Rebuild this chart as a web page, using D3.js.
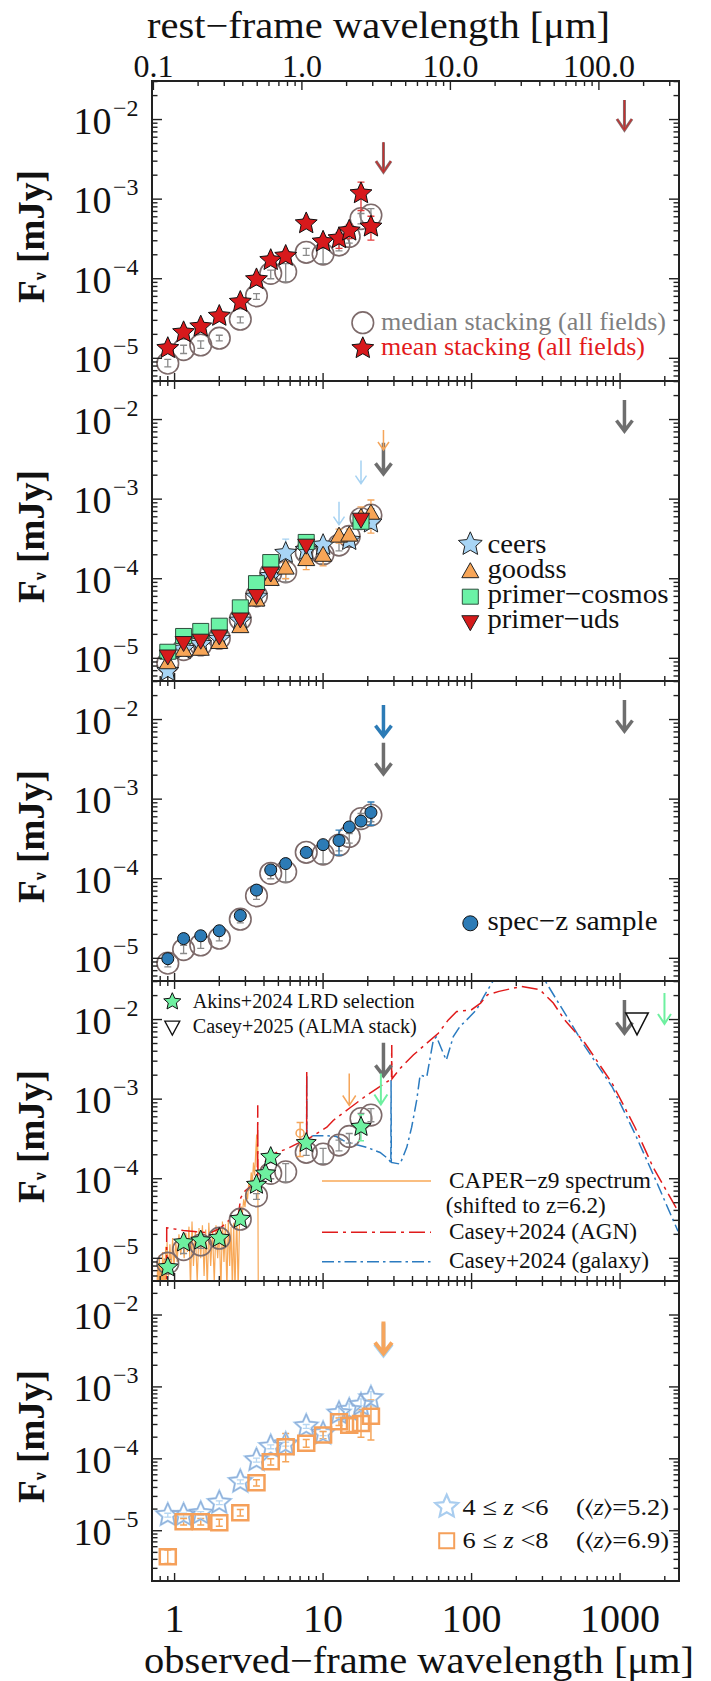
<!DOCTYPE html>
<html>
<head>
<meta charset="utf-8">
<script src="https://cdn.jsdelivr.net/npm/d3@7"></script>
<style>
  body { margin: 0; background: #fff; }
  svg { display: block; }
  svg text { font-family: "Liberation Serif", "Times New Roman", Tinos, "Nimbus Roman", "Nimbus Roman No9 L", FreeSerif, "DejaVu Serif Condensed", serif; }
</style>
</head>
<body>
<div id="chart"></div>
<script>
// observed-frame filter wavelengths [micron]
const waves = [0.9, 1.15, 1.5, 2.0, 2.77, 3.56, 4.44, 5.6, 7.7, 10, 12.8, 15, 18, 21];
const limWaves = [25.5, 1070];
const zShift = 6.2;

// median / mean stacks, all fields [mJy]
const medianFlux = [8.7e-6, 1.29e-5, 1.47e-5, 1.79e-5, 3.1e-5, 6.1e-5, 1.17e-4, 1.22e-4, 2.15e-4, 2.04e-4, 2.65e-4, 3.4e-4, 5.7e-4, 6.3e-4];
const medianLo = [7.8e-6, 1.15e-5, 1.33e-5, 1.66e-5, 2.79e-5, 5.5e-5, 1.0e-4, 9.1e-5, 1.97e-4, 1.55e-4, 2.24e-4, 2.8e-4, 4.9e-4, 5.2e-4];
const medianHi = [9.7e-6, 1.46e-5, 1.66e-5, 1.95e-5, 3.31e-5, 6.5e-5, 1.28e-4, 1.55e-4, 2.4e-4, 2.4e-4, 3.05e-4, 3.7e-4, 6.6e-4, 7.6e-4];
const medianLim = [5.1e-3, 0.0176];

const meanFlux = [1.34e-5, 2.12e-5, 2.5e-5, 3.4e-5, 5.1e-5, 9.8e-5, 1.71e-4, 1.93e-4, 4.95e-4, 2.91e-4, 3.21e-4, 4.0e-4, 1.18e-3, 4.5e-4];
const meanLo = [1.2e-5, 1.9e-5, 2.25e-5, 3.05e-5, 4.6e-5, 8.8e-5, 1.5e-4, 1.7e-4, 4.3e-4, 2.5e-4, 2.4e-4, 3.2e-4, 7.2e-4, 3.05e-4];
const meanHi = [1.5e-5, 2.35e-5, 2.8e-5, 3.8e-5, 5.7e-5, 1.1e-4, 1.95e-4, 2.2e-4, 5.7e-4, 3.35e-4, 3.8e-4, 4.8e-4, 1.64e-3, 6.1e-4];
const meanLim = [5.2e-3, 0.0176];

// per field stacks
const ceersFlux = [6.9e-6, 1.3e-5, 1.5e-5, 1.74e-5, 2.95e-5, 5.9e-5, 1.07e-4, 2.1e-4, 2.29e-4, 2.64e-4, null, 3.05e-4, null, 5.06e-4];
const ceersLo = [6.3e-6, 1.2e-5, 1.4e-5, 1.6e-5, 2.75e-5, 5.5e-5, 1.0e-4, 1.01e-4, 2.0e-4, 2.3e-4, null, 2.6e-4, null, 4.3e-4];
const ceersHi = [7.5e-6, 1.4e-5, 1.6e-5, 1.9e-5, 3.15e-5, 6.3e-5, 1.15e-4, 3.14e-4, 2.6e-4, 3.0e-4, null, 3.5e-4, null, 5.9e-4];
const ceersLimWave = [12.8, 18];
const ceersLim = [9.3e-4, 3.05e-3];

const goodssFlux = [8.8e-6, 1.26e-5, 1.3e-5, 1.58e-5, 2.5e-5, 5.4e-5, 9.8e-5, 1.36e-4, 1.74e-4, 1.97e-4, 3.43e-4, 3.53e-4, 5.9e-4, 6.65e-4];
const goodssLo = [8.0e-6, 1.15e-5, 1.2e-5, 1.45e-5, 2.3e-5, 5.0e-5, 8.8e-5, 1.0e-4, 1.3e-4, 1.45e-4, 2.8e-4, 2.9e-4, 5.2e-4, 3.74e-4];
const goodssHi = [9.6e-6, 1.37e-5, 1.4e-5, 1.7e-5, 2.7e-5, 5.8e-5, 1.08e-4, 1.6e-4, 2.1e-4, 2.3e-4, 4.2e-4, 4.2e-4, 8.0e-4, 9.75e-4];
const goodssLimWave = [25.5];
const goodssLim = [7.4e-3];

const cosmosFlux = [1.21e-5, 1.91e-5, 2.21e-5, 2.57e-5, 4.37e-5, 8.8e-5, 1.62e-4, null, 2.9e-4, null, null, null, 5.2e-4, null];
const udsFlux = [1.07e-5, 1.58e-5, 1.69e-5, 1.91e-5, 3.12e-5, 6.15e-5, 1.18e-4, null, 2.64e-4, null, null, null, 5.6e-4, null];

// spec-z sample
const specFlux = [9.9e-6, 1.77e-5, 1.92e-5, 2.22e-5, 3.45e-5, 7.2e-5, 1.29e-4, 1.55e-4, 2.14e-4, 2.68e-4, 3.02e-4, 4.47e-4, 5.3e-4, 6.8e-4];
const specLo = [9.2e-6, 1.65e-5, 1.8e-5, 2.08e-5, 3.25e-5, 6.8e-5, 1.2e-4, 1.45e-4, 2.0e-4, 2.45e-4, 1.98e-4, 4.1e-4, 4.7e-4, 4.7e-4];
const specHi = [1.07e-5, 1.9e-5, 2.05e-5, 2.36e-5, 3.65e-5, 7.6e-5, 1.38e-4, 1.65e-4, 2.28e-4, 2.9e-4, 4.07e-4, 4.85e-4, 5.9e-4, 9.2e-4];
const specLim = [0.0152];

// Akins+2024 LRD selection, Casey+2025 ALMA stack, CAPER-z9 photometry
const akinsWave = [0.9, 1.15, 1.5, 2.0, 2.77, 3.56, 4.1, 4.44, 7.7, 18];
const akinsFlux = [7.7e-6, 1.58e-5, 1.67e-5, 1.8e-5, 3.12e-5, 8.4e-5, 1.16e-4, 1.87e-4, 2.81e-4, 4.48e-4];
const akinsLo = [7.2e-6, 1.5e-5, 1.58e-5, 1.7e-5, 2.95e-5, 7.9e-5, 1.08e-4, 1.75e-4, 2.55e-4, 3.0e-4];
const akinsHi = [8.2e-6, 1.66e-5, 1.76e-5, 1.9e-5, 3.3e-5, 8.9e-5, 1.24e-4, 2.0e-4, 3.1e-4, 6.4e-4];
const akinsLimWave = [24.5, 1990];
const akinsLim = [2.1e-3, 0.0216];
const almaWave = [1300];
const almaLim = [9.4e-3];
const caperPhotWave = [7.0];
const caperPhotFlux = [3.74e-4];
const caperPhotLo = [1.9e-4];
const caperPhotHi = [5.1e-4];
const caperLimWave = [15];
const caperLim = [2.1e-3];

// CAPER-z9 spectrum shifted to z=6.2 (traced)
const caperWave = [0.76, 0.77, 0.78, 0.79, 0.80, 0.81, 0.82, 0.83, 0.84, 0.85, 0.86, 0.87, 0.88, 0.89, 0.91, 0.93, 0.95, 0.97, 0.99, 1.02,
  1.04, 1.07, 1.10, 1.13, 1.16, 1.19, 1.22, 1.25, 1.28, 1.31, 1.34, 1.38, 1.42, 1.46, 1.50, 1.54, 1.58, 1.62, 1.66, 1.70,
  1.75, 1.80, 1.85, 1.90, 1.95, 2.00, 2.05, 2.10, 2.15, 2.20, 2.25, 2.30, 2.35, 2.40, 2.45, 2.50, 2.55, 2.62, 2.68, 2.74,
  2.80, 2.86, 2.92, 2.98, 3.04, 3.10, 3.16, 3.22, 3.28, 3.34, 3.40, 3.46, 3.52, 3.57, 3.60, 3.63, 3.66];
const caperFlux = [4e-6, 9e-6, 3e-6, 1.1e-5, 3e-6, 8e-6, 3e-6, 1.2e-5, 4e-6, 1e-5, 3e-6, 1.4e-5, 5e-6, 1.6e-5, 6e-6, 1.5e-5, 7e-6, 1.8e-5, 8e-6, 1.6e-5,
  9e-6, 2.0e-5, 1.1e-5, 1.9e-5, 1.0e-5, 2.1e-5, 1.2e-5, 2.5e-5, 4e-6, 2.9e-5, 8e-6, 2.2e-5, 5e-6, 2.4e-5, 1.0e-5, 2.6e-5, 6e-6, 2.3e-5, 4e-6, 2.8e-5,
  8e-6, 2.2e-5, 5e-6, 2.6e-5, 1.0e-5, 2.4e-5, 4e-6, 2.9e-5, 9e-6, 2.7e-5, 4e-6, 3.0e-5, 8e-6, 2.5e-5, 4e-6, 2.8e-5, 4e-6, 3.5e-5, 4e-6, 3.1e-5,
  4.5e-5, 3.6e-5, 5.5e-5, 4.4e-5, 7e-5, 5.5e-5, 9e-5, 7e-5, 1.2e-4, 9e-5, 1.6e-4, 1.1e-4, 2.2e-4, 3.6e-4, 1.4e-4, 2.6e-4, 4e-6];

// Casey+2024 model SEDs (traced)
const agnWave = [0.884, 0.885, 1.144, 1.41, 1.73, 2.02, 2.36, 2.69, 2.79, 2.98, 3.39, 3.62, 3.63, 3.64, 3.86, 4.27, 4.87, 5.69, 6.64, 7.55,
  7.75, 7.76, 7.77, 8.59, 10.6, 11.7, 15.2, 19.7, 24.8, 28.9, 29.0, 29.1, 33, 40.5, 49.9, 59.7, 69.7, 79.4, 100, 115,
  128, 153, 217, 288, 355, 423, 581, 886, 1259, 1669, 2455];
const agnFlux = [3e-6, 2.42e-5, 2.24e-5, 2.15e-5, 2.09e-5, 2.37e-5, 3.08e-5, 3.56e-5, 5.78e-5, 7.03e-5, 8.55e-5, 1.1e-4, 8.36e-4, 1.15e-4, 1.39e-4, 1.89e-4, 2.14e-4, 2.37e-4, 2.74e-4, 3.01e-4,
  3.1e-4, 2.2e-3, 3.1e-4, 3.48e-4, 4.44e-4, 5.4e-4, 7.8e-4, 1.12e-3, 1.49e-3, 1.8e-3, 4.8e-3, 1.8e-3, 2.43e-3, 3.58e-3, 5.04e-3, 6.73e-3, 9.9e-3, 1.26e-2, 1.33e-2, 1.61e-2,
  2.05e-2, 2.26e-2, 2.61e-2, 2.37e-2, 1.61e-2, 9.9e-3, 5.04e-3, 1.57e-3, 4.44e-4, 1.39e-4, 3.93e-5];
const galWave = [7.55, 7.75, 7.76, 7.77, 8.59, 10.6, 12.3, 13.7, 16, 19.7, 24.2, 27.5, 28.6, 28.7, 28.8, 33, 36.6, 39.5, 42.7, 45,
  49.9, 55.2, 58, 64.5, 67.6, 75.3, 83.5, 92.7, 108, 121, 137, 170, 215, 270, 319, 438, 581, 886, 1260, 1669, 2455];
const galFlux = [3.01e-4, 3.1e-4, 2.0e-3, 3.2e-4, 3.48e-4, 3.48e-4, 3.39e-4, 3.01e-4, 2.74e-4, 2.48e-4, 2.14e-4, 1.77e-4, 1.6e-4, 1.74e-3, 1.6e-4, 1.53e-4, 2.48e-4, 4.44e-4, 9.7e-4, 2.0e-3,
  1.9e-3, 5.5e-3, 6.1e-3, 3.76e-3, 3.09e-3, 6.1e-3, 8.2e-3, 9.9e-3, 1.33e-2, 1.95e-2, 2.88e-2, 5.5e-2, 7.0e-2, 5.5e-2, 2.88e-2, 1.09e-2, 4.56e-3, 1.42e-3, 3.66e-4, 1.14e-4, 2.19e-5];

// redshift bins
const z46Flux = [1.65e-5, 1.65e-5, 1.74e-5, 2.45e-5, 4.8e-5, 9.6e-5, 1.47e-4, 1.6e-4, 2.84e-4, 2.25e-4, 4.28e-4, 4.75e-4, 5.6e-4, 7.0e-4];
const z46Lo = [1.55e-5, 1.55e-5, 1.64e-5, 2.3e-5, 4.5e-5, 9.0e-5, 1.38e-4, 1.5e-4, 2.65e-4, 2.1e-4, 3.4e-4, 3.8e-4, 4.4e-4, 5.4e-4];
const z46Hi = [1.75e-5, 1.75e-5, 1.84e-5, 2.6e-5, 5.1e-5, 1.02e-4, 1.56e-4, 1.7e-4, 3.0e-4, 2.4e-4, 5.2e-4, 5.8e-4, 6.8e-4, 8.6e-4];
const z68Flux = [4.35e-6, 1.33e-5, 1.33e-5, 1.29e-5, 1.78e-5, 4.64e-5, 9.1e-5, 1.47e-4, 1.64e-4, 2.14e-4, 3.27e-4, 2.94e-4, 3.1e-4, 3.9e-4];
const z68Lo = [3.5e-6, 1.2e-5, 1.2e-5, 1.15e-5, 1.6e-5, 4.2e-5, 8.2e-5, 9.1e-5, 1.45e-4, 1.9e-4, 2.9e-4, 2.4e-4, 2.0e-4, 1.83e-4];
const z68Hi = [5.4e-6, 1.48e-5, 1.48e-5, 1.44e-5, 1.98e-5, 5.1e-5, 1.0e-4, 2.25e-4, 1.85e-4, 2.4e-4, 3.7e-4, 3.6e-4, 4.8e-4, 6.6e-4];
const z46Lim = [7.7e-3];
const z68Lim = [8.1e-3];

// ---- layout
const left = 152, right = 679, panelH = 300;
const tops = [81, 381, 681, 981, 1281];

const x = d3.scaleLog().domain([0.7045, 2493]).range([left, right]);
const xRest = d3.scaleLog().domain([0.7045 / (1 + zShift), 2493 / (1 + zShift)]).range([left, right]);
const yScale = (top, dom) => d3.scaleLog().domain(dom).range([top + panelH, top]);
const ys = [0, 1, 2, 3].map(i => yScale(tops[i], [5.19e-6, 0.0305]));
ys.push(yScale(tops[4], [2.0e-6, 0.0297]));

const svg = d3.select("#chart").append("svg").attr("width", 711).attr("height", 1681);
svg.append("rect").attr("width", 711).attr("height", 1681).attr("fill", "#fff");

function logTicks(dom) {
  const out = [];
  const [a, b] = dom[0] < dom[1] ? dom : [dom[1], dom[0]];
  for (let e = Math.floor(Math.log10(a)); e <= Math.ceil(Math.log10(b)); e++) {
    for (let m = 1; m <= 9; m++) {
      const v = m * Math.pow(10, e);
      if (v >= a * 0.9999 && v <= b * 1.0001) out.push({ v, major: m === 1 });
    }
  }
  return out;
}

function starPath(R, ratio = 0.47) {
  const pts = d3.range(10).map(i => {
    const a = -Math.PI / 2 + i * Math.PI / 5;
    const r = i % 2 ? R * ratio : R;
    return [r * Math.cos(a), r * Math.sin(a)].map(d => d.toFixed(2)).join(",");
  });
  return "M" + pts.join("L") + "Z";
}
function triPath(w, h, down) {
  const s = down ? -1 : 1;
  return `M0,${-s * h * 0.6}L${w / 2},${s * h * 0.4}L${-w / 2},${s * h * 0.4}Z`;
}

function frame(g, top, y, isFirst) {
  const bottom = top + panelH;
  const yt = logTicks(y.domain());
  g.selectAll(".yl").data(yt).enter().append("line")
    .attr("x1", left).attr("x2", d => left + (d.major ? 10 : 5.5))
    .attr("y1", d => y(d.v)).attr("y2", d => y(d.v));
  g.selectAll(".yr").data(yt).enter().append("line")
    .attr("x1", right).attr("x2", d => right - (d.major ? 10 : 5.5))
    .attr("y1", d => y(d.v)).attr("y2", d => y(d.v));
  const xt = logTicks(x.domain());
  g.selectAll(".xb").data(xt).enter().append("line")
    .attr("x1", d => x(d.v)).attr("x2", d => x(d.v))
    .attr("y1", bottom).attr("y2", d => bottom - (d.major ? 8 : 5));
  if (isFirst) {
    const rt = logTicks(xRest.domain());
    g.selectAll(".xr").data(rt).enter().append("line")
      .attr("x1", d => xRest(d.v)).attr("x2", d => xRest(d.v))
      .attr("y1", top).attr("y2", d => top + (d.major ? 9 : 5));
  } else {
    g.selectAll(".xt").data(xt).enter().append("line")
      .attr("x1", d => x(d.v)).attr("x2", d => x(d.v))
      .attr("y1", top).attr("y2", d => top + (d.major ? 8 : 5));
  }
  g.selectAll("line").attr("stroke", "#222").attr("stroke-width", 1.4);
  g.append("rect").attr("x", left).attr("y", top).attr("width", right - left).attr("height", panelH)
    .attr("fill", "none").attr("stroke", "#222").attr("stroke-width", 2);

  // tick labels 10^-n
  yt.filter(d => d.major).forEach(d => {
    const e = Math.round(Math.log10(d.v));
    const yy = y(d.v);
    g.append("text").attr("x", 111.5).attr("y", yy + 14).attr("text-anchor", "end")
      .attr("font-size", 38).attr("fill", "#111").text("10");
    g.append("text").attr("x", 113).attr("y", yy - 4).attr("font-size", 24).attr("fill", "#111")
      .text("\u2212" + Math.abs(e));
  });

  // y title
  const t = g.append("text").attr("transform", `translate(44,${top + panelH / 2 + 5.5}) rotate(-90)`)
    .attr("text-anchor", "middle").attr("font-size", 38).attr("font-weight", "bold").attr("fill", "#111")
    .attr("textLength", 133).attr("lengthAdjust", "spacingAndGlyphs");
  t.append("tspan").text("F");
  t.append("tspan").attr("font-size", 18).attr("dy", 2).text("\u03bd");
  t.append("tspan").attr("dy", -2).text(" [mJy]");
}

function errBars(g, xs, lo, hi, color, cap = 3.5, sw = 1.3) {
  const d = xs.map((w, i) => ({ w, lo: lo[i], hi: hi[i] })).filter(d => d.lo != null);
  const p = d.map(e => {
    const xx = x(e.w), a = g.yS(e.lo), b = g.yS(e.hi);
    return `M${xx},${a}V${b}M${xx - cap},${a}H${xx + cap}M${xx - cap},${b}H${xx + cap}`;
  }).join("");
  g.append("path").attr("d", p).attr("fill", "none").attr("stroke", color).attr("stroke-width", sw);
}

function markers(g, xs, ys_, path, fill, stroke, sw = 1) {
  const d = xs.map((w, i) => ({ w, f: ys_[i] })).filter(d => d.f != null);
  g.selectAll(null).data(d).enter().append("path")
    .attr("d", path)
    .attr("transform", d => `translate(${x(d.w)},${g.yS(d.f)})`)
    .attr("fill", fill).attr("stroke", stroke).attr("stroke-width", sw);
}

function arrows(g, xs, vals, color, sw, len, hw, hh) {
  xs.forEach((w, i) => {
    const xx = x(w), y0 = g.yS(vals[i]), y1 = y0 + len;
    g.append("path").attr("d", `M${xx},${y0}V${y1}M${xx - hw},${y1 - hh}L${xx},${y1}L${xx + hw},${y1 - hh}`)
      .attr("fill", "none").attr("stroke", color).attr("stroke-width", sw);
  });
}

function medianSet(g) {
  g.selectAll(null).data(waves.map((w, i) => ({ w, f: medianFlux[i] }))).enter().append("circle")
    .attr("cx", d => x(d.w)).attr("cy", d => g.yS(d.f)).attr("r", 10.8)
    .attr("fill", "none").attr("stroke", "#7d6a6a").attr("stroke-width", 1.6);
  errBars(g, waves, medianLo, medianHi, "#8a8a8a", 3.5, 1.3);
}

function txt(g, s, xx, yy, size, color, len) {
  const t = g.append("text").attr("x", xx).attr("y", yy).attr("font-size", size).attr("fill", color).text(s);
  if (len) t.attr("textLength", len).attr("lengthAdjust", "spacingAndGlyphs");
  return t;
}

const G = tops.map((top, i) => {
  const g = svg.append("g");
  g.yS = ys[i];
  return g;
});

// ---- panel 1: median vs mean
{
  const g = G[0];
  medianSet(g);
  arrows(g, limWaves, meanLim, "#8a6a6a", 3, 30, 7.5, 11);
  arrows(g, limWaves, meanLim, "#c43030", 1.2, 30, 7.5, 11);
  errBars(g, waves, meanLo, meanHi, "#e33a3a", 3.5, 1.3);
  markers(g, waves, meanFlux, starPath(11.5), "#d7191c", "#111", 1);
  g.append("circle").attr("cx", 362.8).attr("cy", 322.7).attr("r", 10.8)
    .attr("fill", "none").attr("stroke", "#7d6a6a").attr("stroke-width", 1.6);
  g.append("path").attr("d", starPath(11.5)).attr("transform", "translate(362.8,348.3)")
    .attr("fill", "#d7191c").attr("stroke", "#111");
  txt(g, "median stacking (all fields)", 381, 330, 26, "#7f7f7f", 285);
  txt(g, "mean stacking (all fields)", 381, 355, 26, "#e31a1c", 264);
}

// ---- panel 2: fields
{
  const g = G[1];
  medianSet(g);
  arrows(g, limWaves, medianLim, "#6e6e6e", 3.5, 31, 8, 10.5);
  arrows(g, goodssLimWave, goodssLim, "#f5a55a", 1.5, 20, 5.5, 8);
  arrows(g, ceersLimWave, ceersLim, "#a6d2f2", 1.5, 23, 5.5, 8);
  errBars(g, waves, ceersLo, ceersHi, "#a6d2f2");
  errBars(g, waves, goodssLo, goodssHi, "#f5a55a");
  markers(g, waves, ceersFlux, starPath(11.5), "#a8d5f5", "#222", 1);
  markers(g, waves, goodssFlux, triPath(17, 15, false), "#f7a557", "#222", 1);
  markers(g, waves, cosmosFlux, "M-8,-7.5H8V7.5H-8Z", "#6bf2a6", "#2d4f3d", 1);
  markers(g, waves, udsFlux, triPath(17, 15, true), "#d51b1b", "#222", 1);
  const lx = 470.3;
  g.append("path").attr("d", starPath(12.5)).attr("transform", `translate(${lx},544.3)`).attr("fill", "#a8d5f5").attr("stroke", "#222");
  g.append("path").attr("d", triPath(17, 15, false)).attr("transform", `translate(${lx},571.7)`).attr("fill", "#f7a557").attr("stroke", "#222");
  g.append("path").attr("d", "M-8,-7.5H8V7.5H-8Z").attr("transform", `translate(${lx},596.7)`).attr("fill", "#6bf2a6").attr("stroke", "#2d4f3d");
  g.append("path").attr("d", triPath(17, 15, true)).attr("transform", `translate(${lx},621.7)`).attr("fill", "#d51b1b").attr("stroke", "#222");
  txt(g, "ceers", 487.5, 553.3, 28, "#111", 59);
  txt(g, "goodss", 487.5, 578.3, 28, "#111", 79);
  txt(g, "primer\u2212cosmos", 487.5, 603.3, 28, "#111", 181);
  txt(g, "primer\u2212uds", 487.5, 628.3, 28, "#111", 132);
}

// ---- panel 3: spec-z
{
  const g = G[2];
  medianSet(g);
  arrows(g, limWaves, medianLim, "#6e6e6e", 3.5, 31, 8, 10.5);
  arrows(g, [25.5], specLim, "#2c7bb6", 3.5, 31, 8, 10.5);
  errBars(g, waves, specLo, specHi, "#2c7bb6");
  g.selectAll(null).data(waves.map((w, i) => ({ w, f: specFlux[i] }))).enter().append("circle")
    .attr("cx", d => x(d.w)).attr("cy", d => g.yS(d.f)).attr("r", 6)
    .attr("fill", "#2c7bb6").attr("stroke", "#111").attr("stroke-width", 1);
  g.append("circle").attr("cx", 470.3).attr("cy", 923.3).attr("r", 7.5).attr("fill", "#2c7bb6").attr("stroke", "#111");
  txt(g, "spec\u2212z sample", 487.5, 930, 28, "#111", 170);
}

// ---- panel 4: comparison with literature
{
  const g = G[3];
  const top = tops[3];
  svg.append("clipPath").attr("id", "clip4").append("rect")
    .attr("x", left).attr("y", top).attr("width", right - left).attr("height", panelH);
  const lines = g.append("g").attr("clip-path", "url(#clip4)");
  const line = (ws, fs) => d3.line().x((d, i) => x(ws[i])).y((d, i) => g.yS(fs[i]))(ws);
  lines.append("path").attr("d", line(caperWave, caperFlux)).attr("fill", "none")
    .attr("stroke", "#f8a857").attr("stroke-width", 1.2);
  lines.append("path").attr("d", line(galWave, galFlux)).attr("fill", "none")
    .attr("stroke", "#2b7bc0").attr("stroke-width", 1.5).attr("stroke-dasharray", "12,4,2.5,4");
  lines.append("path").attr("d", line(agnWave, agnFlux)).attr("fill", "none")
    .attr("stroke", "#e01b1b").attr("stroke-width", 1.5).attr("stroke-dasharray", "16,5,3,5");

  medianSet(g);
  arrows(g, limWaves, medianLim, "#6e6e6e", 3.5, 33, 8, 10.5);
  arrows(g, caperLimWave, caperLim, "#f5a55a", 1.5, 32, 6.5, 10);
  arrows(g, akinsLimWave, akinsLim, "#6ef0a0", 2, 31, 6.5, 10);
  errBars(g, caperPhotWave, caperPhotLo, caperPhotHi, "#f5a55a", 3.5, 1.5);
  markers(g, caperPhotWave, caperPhotFlux, "M4,0A4,4 0 1,1 -4,0A4,4 0 1,1 4,0Z", "none", "#f5a55a", 1.5);
  errBars(g, akinsWave, akinsLo, akinsHi, "#6ef0a0", 3, 1.3);
  markers(g, akinsWave, akinsFlux, starPath(10.5), "#6ef0a0", "#111", 1);
  markers(g, almaWave, almaLim, triPath(22.5, 22, true), "none", "#111", 1.5);

  g.append("path").attr("d", starPath(9)).attr("transform", "translate(172.3,1001.7)").attr("fill", "#6ef0a0").attr("stroke", "#111");
  g.append("path").attr("d", triPath(15, 14, true)).attr("transform", "translate(172.3,1026.7)").attr("fill", "none").attr("stroke", "#111").attr("stroke-width", 1.3);
  txt(g, "Akins+2024 LRD selection", 192.7, 1008.3, 20.5, "#111", 222);
  txt(g, "Casey+2025 (ALMA stack)", 192.7, 1033.3, 20.5, "#111", 224);

  g.append("line").attr("x1", 322).attr("x2", 431).attr("y1", 1181).attr("y2", 1181)
    .attr("stroke", "#f8a857").attr("stroke-width", 1.5);
  g.append("line").attr("x1", 322).attr("x2", 431).attr("y1", 1232.3).attr("y2", 1232.3)
    .attr("stroke", "#e01b1b").attr("stroke-width", 1.5).attr("stroke-dasharray", "16,5,3,5");
  g.append("line").attr("x1", 322).attr("x2", 431).attr("y1", 1261.7).attr("y2", 1261.7)
    .attr("stroke", "#2b7bc0").attr("stroke-width", 1.5).attr("stroke-dasharray", "12,4,2.5,4");
  txt(g, "CAPER\u2212z9 spectrum", 449, 1188.3, 23, "#111", 202);
  txt(g, "(shifted to z=6.2)", 445.8, 1213.3, 23, "#111", 160);
  txt(g, "Casey+2024 (AGN)", 449, 1239, 23, "#111", 188);
  txt(g, "Casey+2024 (galaxy)", 449, 1268, 23, "#111", 200);
}

// ---- panel 5: redshift bins
{
  const g = G[4];
  arrows(g, [25.5], z46Lim, "#a6d2f2", 4, 32, 8.5, 11);
  arrows(g, [25.5], z68Lim, "#f6a55c", 4, 32, 8.5, 11);
  errBars(g, waves, z46Lo, z46Hi, "#b6d6f2", 3.5, 1.3);
  errBars(g, waves, z68Lo, z68Hi, "#f5a55a", 3.5, 1.5);
  markers(g, waves, z46Flux, starPath(12), "none", "#a9cdef", 2.2);
  markers(g, waves, z46Flux, starPath(12), "none", "#7f97c4", 0.6);
  markers(g, waves, z68Flux, "M-8,-7.5H8V7.5H-8Z", "none", "#f5a05a", 2.5);

  g.append("path").attr("d", starPath(12)).attr("transform", "translate(446.7,1506.7)").attr("fill", "none").attr("stroke", "#a9cdef").attr("stroke-width", 2.2);
  g.append("path").attr("d", "M-7.5,-7.5H7.5V7.5H-7.5Z").attr("transform", "translate(446.7,1540.7)").attr("fill", "none").attr("stroke", "#f5a05a").attr("stroke-width", 2);
  const row = (yy, a, b, zm) => {
    const t = g.append("text").attr("x", 462.6).attr("y", yy).attr("font-size", 24).attr("fill", "#111")
      .attr("textLength", 86).attr("lengthAdjust", "spacingAndGlyphs");
    t.append("tspan").text(a + " \u2264 ");
    t.append("tspan").attr("font-style", "italic").text("z");
    t.append("tspan").text(" <" + b);
    const u = g.append("text").attr("x", 576).attr("y", yy).attr("font-size", 24).attr("fill", "#111")
      .attr("textLength", 93).attr("lengthAdjust", "spacingAndGlyphs");
    u.append("tspan").text("(\u27e8");
    u.append("tspan").attr("font-style", "italic").text("z");
    u.append("tspan").text("\u27e9=" + zm + ")");
  };
  row(1515, 4, 6, "5.2");
  row(1548.3, 6, 8, "6.9");
}

tops.forEach((top, i) => frame(svg.append("g"), top, ys[i], i === 0));

// ---- axis labels
const ax = svg.append("g").attr("fill", "#111");
[1, 10, 100, 1000].forEach(v => {
  ax.append("text").attr("x", x(v)).attr("y", 1632).attr("text-anchor", "middle").attr("font-size", 40).text(v);
});
[0.1, 1, 10, 100].forEach(v => {
  ax.append("text").attr("x", xRest(v)).attr("y", 76.7).attr("text-anchor", "middle").attr("font-size", 32).text(v.toFixed(1));
});
txt(ax, "rest\u2212frame wavelength [\u03bcm]", 147, 37.5, 37, "#111", 463);
txt(ax, "observed\u2212frame wavelength [\u03bcm]", 144, 1673, 37, "#111", 550);
</script>
</body>
</html>
